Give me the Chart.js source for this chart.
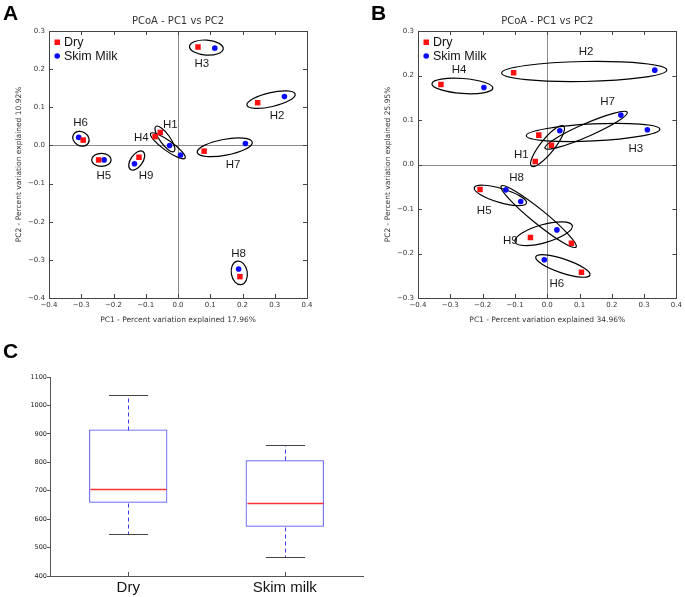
<!DOCTYPE html>
<html>
<head>
<meta charset="utf-8">
<script src="https://cdn.jsdelivr.net/npm/chart.js@4.4.1/dist/chart.umd.min.js"></script>
<style>
  html, body { margin: 0; padding: 0; background: #fff; overflow: hidden; }
  #page { position: relative; width: 685px; height: 597px; }
  .panel { position: absolute; }
  .tag { position: absolute; font: bold 21px "Liberation Sans", Arial, sans-serif; line-height: 21px; color: #000; }
</style>
</head>
<body>
<div id="page">
  <div class="panel" style="left:0;top:0"><canvas id="chart-a" width="340" height="330"></canvas></div>
  <div class="panel" style="left:369px;top:0"><canvas id="chart-b" width="316" height="330"></canvas></div>
  <div class="panel" style="left:0;top:360px"><canvas id="chart-c" width="380" height="237"></canvas></div>
  <div class="tag" style="left:3px;top:2px">A</div>
  <div class="tag" style="left:371px;top:2px">B</div>
  <div class="tag" style="left:3px;top:340px">C</div>
</div>
<script>
// ---- data ----
const groups = ['H1', 'H2', 'H3', 'H4', 'H5', 'H6', 'H7', 'H8', 'H9'];

// Panel A (PC1 17.96%, PC2 10.92%)
const aDryX  = [-0.055, 0.247, 0.062, -0.071, -0.246, -0.294, 0.081, 0.192, -0.121];
const aDryY  = [ 0.034, 0.112, 0.258,  0.023, -0.038,  0.014, -0.015, -0.344, -0.031];
const aSkimX = [-0.026, 0.330, 0.114,  0.008, -0.229, -0.308, 0.209, 0.188, -0.135];
const aSkimY = [ 0.000, 0.128, 0.255, -0.025, -0.038,  0.021, 0.005, -0.324, -0.048];
const aLabelX = [-0.024, 0.307, 0.074, -0.114, -0.230, -0.302, 0.171, 0.188, -0.099];
const aLabelY = [ 0.053, 0.078, 0.215,  0.021, -0.080,  0.059, -0.052, -0.285, -0.080];

// Panel B (PC1 34.96%, PC2 25.95%)
const bDryX  = [-0.037, -0.104, -0.026, -0.329, -0.208, 0.106, 0.013, 0.075, -0.052];
const bDryY  = [ 0.007,  0.206,  0.066,  0.180, -0.056, -0.242, 0.043, -0.177, -0.164];
const bSkimX = [ 0.039,  0.333,  0.310, -0.196, -0.082, -0.009, 0.228, -0.128, 0.030];
const bSkimY = [ 0.076,  0.212,  0.078,  0.173, -0.083, -0.214, 0.111, -0.057, -0.147];
const bLabelX = [-0.080, 0.120, 0.274, -0.273, -0.195, 0.030, 0.187, -0.095, -0.114];
const bLabelY = [ 0.022, 0.253, 0.036,  0.212, -0.103, -0.268, 0.140, -0.031, -0.171];

// Panel C box plot
const boxCategories = ['Dry', 'Skim milk'];
const boxLow    = [548, 468];
const boxQ1     = [658, 573];
const boxMedian = [706, 656];
const boxQ3     = [915, 807];
const boxHigh   = [1037, 860];

// ellipse padding / half-width per group, px (style only)
const aRing = [[7.5, 5], [11, 7], [8.5, 7.5], [5.5, 5], [7, 6.5], [6, 7], [7, 8], [8, 8], [7, 6]];
const bRing = [[6, 7], [12, 10], [12.5, 8.5], [9, 7.5], [6, 7], [9, 7], [7, 6.5], [6, 7], [16, 9]];

const SANS = '"Liberation Sans", Arial, sans-serif';
Chart.defaults.font.family = '"DejaVu Sans", sans-serif';
Chart.defaults.color = '#333';

function fmtTick(v) {
  if (Math.abs(v) < 1e-9) return '0.0';
  return (v < 0 ? '\u2212' : '') + Math.abs(v).toFixed(1);
}

function toPoints(xs, ys) {
  return xs.map((x, i) => ({ x, y: ys[i] }));
}

function pcoaPlugin(d) {
  return {
    id: 'pcoaDecor',
    beforeDatasetsDraw(chart) {
      const { ctx, chartArea: a, scales: { x, y } } = chart;
      ctx.save();
      // zero lines
      ctx.strokeStyle = '#8a8a8a';
      ctx.lineWidth = 1;
      const x0 = Math.round(x.getPixelForValue(0)) + 0.5;
      const y0 = Math.round(y.getPixelForValue(0)) + 0.5;
      ctx.beginPath();
      ctx.moveTo(x0, a.top); ctx.lineTo(x0, a.bottom);
      ctx.moveTo(a.left, y0); ctx.lineTo(a.right, y0);
      ctx.stroke();
      // ellipses around each Dry / Skim Milk pair
      ctx.strokeStyle = '#000';
      ctx.lineWidth = 1.2;
      groups.forEach((g, i) => {
        const x1 = x.getPixelForValue(d.dryX[i]), y1 = y.getPixelForValue(d.dryY[i]);
        const x2 = x.getPixelForValue(d.skimX[i]), y2 = y.getPixelForValue(d.skimY[i]);
        const half = Math.hypot(x2 - x1, y2 - y1) / 2;
        const [pad, minor] = d.ring[i];
        ctx.beginPath();
        ctx.ellipse((x1 + x2) / 2, (y1 + y2) / 2, half + pad, minor, Math.atan2(y2 - y1, x2 - x1), 0, Math.PI * 2);
        ctx.stroke();
      });
      ctx.restore();
    },
    afterDraw(chart) {
      const { ctx, chartArea: a, scales: { x, y } } = chart;
      ctx.save();
      // frame with inward ticks
      ctx.strokeStyle = '#444';
      ctx.lineWidth = 1;
      ctx.strokeRect(Math.round(a.left) + 0.5, Math.round(a.top) + 0.5, Math.round(a.right - a.left), Math.round(a.bottom - a.top));
      ctx.beginPath();
      x.ticks.forEach(t => {
        const px = Math.round(x.getPixelForValue(t.value)) + 0.5;
        ctx.moveTo(px, a.bottom); ctx.lineTo(px, a.bottom - 4);
        ctx.moveTo(px, a.top); ctx.lineTo(px, a.top + 4);
      });
      y.ticks.forEach(t => {
        const py = Math.round(y.getPixelForValue(t.value)) + 0.5;
        ctx.moveTo(a.left, py); ctx.lineTo(a.left + 4, py);
        ctx.moveTo(a.right, py); ctx.lineTo(a.right - 4, py);
      });
      ctx.stroke();
      // group labels
      ctx.fillStyle = '#1a1a1a';
      ctx.font = '11.5px ' + SANS;
      ctx.textAlign = 'center';
      ctx.textBaseline = 'middle';
      groups.forEach((g, i) => {
        ctx.fillText(g, x.getPixelForValue(d.labelX[i]), y.getPixelForValue(d.labelY[i]));
      });
      // legend
      const ds = chart.data.datasets;
      ctx.textAlign = 'left';
      ctx.font = '12.5px ' + SANS;
      ctx.fillStyle = ds[0].backgroundColor;
      ctx.fillRect(a.left + 5.5, a.top + 8.5, 5.5, 5.5);
      ctx.fillStyle = ds[1].backgroundColor;
      ctx.beginPath();
      ctx.arc(a.left + 8.2, a.top + 25, 2.8, 0, Math.PI * 2);
      ctx.fill();
      ctx.fillStyle = '#111';
      ctx.fillText(ds[0].label, a.left + 15, a.top + 11.5);
      ctx.fillText(ds[1].label, a.left + 15, a.top + 25.5);
      ctx.restore();
    }
  };
}

function renderPcoa(canvasId, d) {
  const axisTitle = (text, pad) => ({ display: true, text, color: '#333', font: { size: 7.5 }, padding: pad });
  return new Chart(document.getElementById(canvasId), {
    type: 'scatter',
    data: {
      datasets: [
        { label: 'Dry', data: toPoints(d.dryX, d.dryY), backgroundColor: '#ff1010', borderWidth: 0, pointStyle: 'rect', pointRadius: 3.9 },
        { label: 'Skim Milk', data: toPoints(d.skimX, d.skimY), backgroundColor: '#0a0aff', borderWidth: 0, pointStyle: 'circle', pointRadius: 2.8 }
      ]
    },
    options: {
      responsive: false,
      animation: false,
      layout: { padding: { left: 0, top: 0, right: d.padRight, bottom: 0 } },
      plugins: {
        legend: { display: false },
        tooltip: { enabled: false },
        title: {
          display: true, fullSize: false, text: 'PCoA - PC1 vs PC2', color: '#333',
          font: { size: 10, weight: 'normal' }, padding: { top: 15, bottom: 4 }
        }
      },
      scales: {
        x: {
          type: 'linear', min: -0.4, max: 0.4,
          ticks: { stepSize: 0.1, callback: fmtTick, font: { size: 7 }, color: '#333', padding: 3, maxRotation: 0 },
          grid: { display: false, drawTicks: false },
          border: { display: false },
          title: axisTitle(d.xTitle, { top: 0, bottom: 5.5 }),
          afterFit: s => { s.height = 32; }
        },
        y: {
          type: 'linear', min: d.yMin, max: 0.3,
          ticks: { stepSize: 0.1, callback: fmtTick, font: { size: 7 }, color: '#333', padding: 4 },
          grid: { display: false, drawTicks: false },
          border: { display: false },
          title: axisTitle(d.yTitle, { top: 14.5, bottom: 0 }),
          afterFit: s => { s.width = 49; }
        }
      }
    },
    plugins: [pcoaPlugin(d)]
  });
}

renderPcoa('chart-a', {
  dryX: aDryX, dryY: aDryY, skimX: aSkimX, skimY: aSkimY,
  labelX: aLabelX, labelY: aLabelY, ring: aRing, yMin: -0.4, padRight: 33,
  xTitle: 'PC1 - Percent variation explained 17.96%',
  yTitle: 'PC2 - Percent variation explained 10.92%'
});

renderPcoa('chart-b', {
  dryX: bDryX, dryY: bDryY, skimX: bSkimX, skimY: bSkimY,
  labelX: bLabelX, labelY: bLabelY, ring: bRing, yMin: -0.3, padRight: 8,
  xTitle: 'PC1 - Percent variation explained 34.96%',
  yTitle: 'PC2 - Percent variation explained 25.95%'
});

// ---- box plot ----
const boxDecor = {
  id: 'boxDecor',
  afterDatasetsDraw(chart) {
    const { ctx, chartArea: a, scales: { x, y } } = chart;
    const bar = chart.getDatasetMeta(0).data;
    ctx.save();
    boxCategories.forEach((c, i) => {
      const cx = Math.round(x.getPixelForValue(i)) + 0.5;
      const half = bar[i].width / 2;
      const capHalf = half / 2;
      const py = v => Math.round(y.getPixelForValue(v)) + 0.5;
      // whiskers
      ctx.lineWidth = 1;
      ctx.strokeStyle = '#3c3cf0';
      ctx.setLineDash([4, 3]);
      ctx.beginPath();
      ctx.moveTo(cx, py(boxQ3[i])); ctx.lineTo(cx, py(boxHigh[i]));
      ctx.moveTo(cx, py(boxQ1[i])); ctx.lineTo(cx, py(boxLow[i]));
      ctx.stroke();
      ctx.setLineDash([]);
      // caps
      ctx.strokeStyle = '#444';
      ctx.beginPath();
      ctx.moveTo(cx - capHalf, py(boxHigh[i])); ctx.lineTo(cx + capHalf, py(boxHigh[i]));
      ctx.moveTo(cx - capHalf, py(boxLow[i])); ctx.lineTo(cx + capHalf, py(boxLow[i]));
      ctx.stroke();
      // median
      ctx.lineWidth = 1.5;
      ctx.strokeStyle = 'rgb(255, 50, 50)';
      ctx.beginPath();
      ctx.moveTo(cx - half + 1, py(boxMedian[i])); ctx.lineTo(cx + half - 1, py(boxMedian[i]));
      ctx.stroke();
      // inward x tick
      ctx.lineWidth = 1;
      ctx.strokeStyle = '#555';
      ctx.beginPath();
      ctx.moveTo(cx, a.bottom); ctx.lineTo(cx, a.bottom - 4);
      ctx.stroke();
    });
    ctx.restore();
  }
};

new Chart(document.getElementById('chart-c'), {
  type: 'bar',
  data: {
    labels: boxCategories,
    datasets: [{
      data: boxQ1.map((v, i) => [v, boxQ3[i]]),
      backgroundColor: 'rgba(0,0,0,0)',
      borderColor: '#4a4af2',
      borderWidth: 1,
      borderSkipped: false,
      categoryPercentage: 1,
      barPercentage: 0.5
    }]
  },
  options: {
    responsive: false,
    animation: false,
    layout: { padding: { left: 0, top: 17, right: 17, bottom: 0 } },
    plugins: { legend: { display: false }, tooltip: { enabled: false } },
    scales: {
      x: {
        type: 'category', offset: true,
        ticks: { font: { family: SANS, size: 15 }, color: '#111', padding: 3 },
        grid: { display: false, drawTicks: false },
        border: { display: true, color: '#555', width: 1 },
        afterFit: s => { s.height = 21; }
      },
      y: {
        min: 400, max: 1100,
        ticks: { stepSize: 100, callback: v => String(v), font: { size: 6.5 }, color: '#222', padding: 0 },
        grid: { drawOnChartArea: false, drawTicks: true, tickLength: 3, color: '#555' },
        border: { display: true, color: '#555', width: 1 },
        afterFit: s => { s.width = 50; }
      }
    }
  },
  plugins: [boxDecor]
});
</script>
</body>
</html>
